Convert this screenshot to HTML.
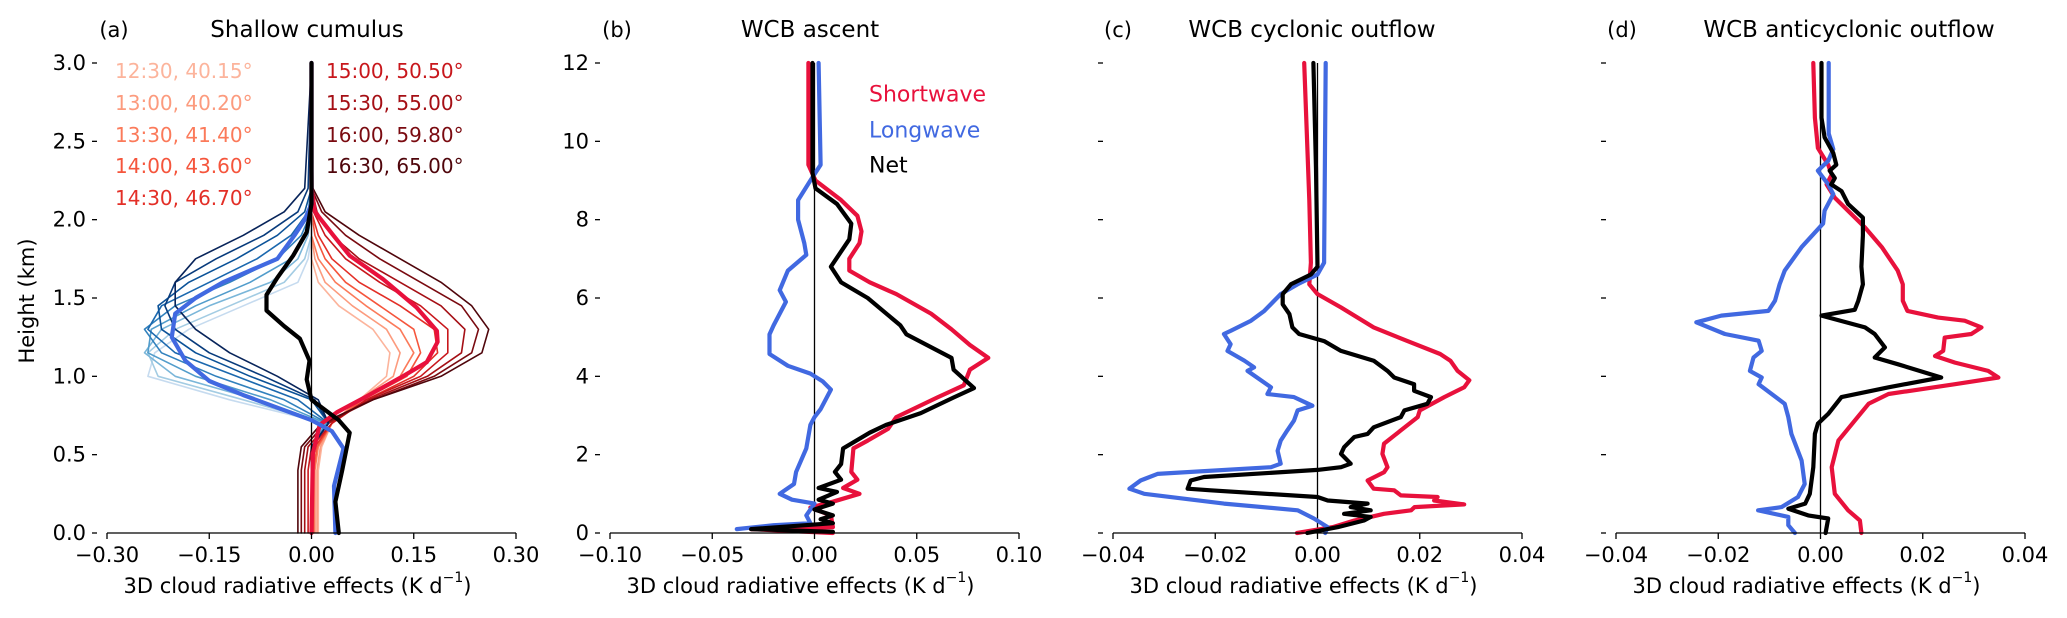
<!DOCTYPE html>
<html><head><meta charset="utf-8"><style>
html,body{margin:0;padding:0;background:#fff;}
svg{display:block;font-family:"DejaVu Sans","Liberation Sans",sans-serif;}
</style></head><body>
<svg id="fig" width="2067" height="618" viewBox="0 0 2067 618" xmlns="http://www.w3.org/2000/svg"></svg>
<script>
// ---------- Panel (a) data ----------
const aH = [0,0.4,0.55,0.7,0.85,1.0,1.15,1.3,1.45,1.6,1.75,1.9,2.05,2.2,3.0];
const aTimes = ["12:30, 40.15°","13:00, 40.20°","13:30, 41.40°","14:00, 43.60°","14:30, 46.70°","15:00, 50.50°","15:30, 55.00°","16:00, 59.80°","16:30, 65.00°"];
const aSw1=[0.01,0.01,0.015,0.03,0.07,0.11,0.115,0.09,0.04,0.01,0,0,0,0,0];
const aSw2=[0.008,0.008,0.013,0.03,0.07,0.12,0.13,0.11,0.06,0.02,0.005,0,0,0,0];
const aSw3=[0.005,0.005,0.01,0.03,0.07,0.13,0.15,0.13,0.08,0.035,0.01,0,0,0,0];
const aSw4=[0.003,0.003,0.008,0.03,0.075,0.14,0.16,0.15,0.1,0.05,0.02,0.005,0,0,0];
const aSw5=[0,0,0.005,0.03,0.08,0.15,0.185,0.18,0.13,0.07,0.03,0.01,0,0,0];
const aSw6=[-0.005,-0.005,0,0.03,0.08,0.16,0.2,0.2,0.16,0.1,0.05,0.02,0.003,0,0];
const aSw7=[-0.01,-0.01,-0.005,0.025,0.085,0.17,0.22,0.225,0.19,0.13,0.07,0.03,0.008,0,0];
const aSw8=[-0.015,-0.015,-0.01,0.02,0.09,0.18,0.235,0.245,0.22,0.16,0.1,0.05,0.015,0,0];
const aSw9=[-0.02,-0.02,-0.015,0.015,0.09,0.19,0.25,0.26,0.235,0.19,0.13,0.07,0.02,0.002,0];
const aLw1=[0,0,0,0.02,-0.12,-0.24,-0.23,-0.18,-0.1,-0.02,-0.005,0,0,0,0];
const aLw2=[0,0,0,0.02,-0.1,-0.225,-0.24,-0.2,-0.12,-0.04,-0.01,0,0,0,0];
const aLw3=[0,0,0,0.02,-0.08,-0.2,-0.245,-0.22,-0.15,-0.06,-0.02,-0.005,0,0,0];
const aLw4=[0,0,0,0.022,-0.06,-0.17,-0.24,-0.235,-0.17,-0.09,-0.03,-0.01,0,0,0];
const aLw5=[0,0,0,0.024,-0.04,-0.14,-0.22,-0.245,-0.2,-0.12,-0.05,-0.015,0,0,0];
const aLw6=[0,0,0,0.025,-0.02,-0.11,-0.2,-0.24,-0.22,-0.15,-0.08,-0.03,-0.005,0,0];
const aLw7=[0,0,0,0.025,0,-0.09,-0.17,-0.22,-0.225,-0.18,-0.11,-0.05,-0.01,0,0];
const aLw8=[0,0,0,0.025,0.005,-0.07,-0.15,-0.2,-0.215,-0.2,-0.14,-0.07,-0.02,-0.005,0];
const aLw9=[0,0,0,0.025,0.01,-0.05,-0.12,-0.17,-0.2,-0.2,-0.17,-0.1,-0.04,-0.01,0];
const aSwMeanH=[0,0.51,0.69,0.77,0.87,0.99,1.09,1.22,1.29,1.44,1.62,1.77,1.9,2.05,2.2,3.0];
const aSwMeanV=[0,0.002,0.012,0.037,0.08,0.13,0.169,0.185,0.184,0.154,0.105,0.056,0.032,0.005,0,0];
const aLwMeanH=[0,0.3,0.54,0.65,0.72,0.8,0.88,0.97,1.1,1.25,1.4,1.5,1.6,1.75,1.9,2.0,2.1,3.0];
const aLwMeanV=[0.035,0.033,0.047,0.03,0,-0.05,-0.1,-0.15,-0.185,-0.205,-0.2,-0.17,-0.13,-0.05,-0.025,-0.01,0,0];
const aNetH=[0,0.2,0.4,0.64,0.72,0.85,0.98,1.1,1.24,1.32,1.42,1.52,1.63,1.77,1.92,2.1,3.0];
const aNetV=[0.04,0.035,0.045,0.056,0.04,0.0,-0.007,-0.003,-0.017,-0.04,-0.066,-0.066,-0.05,-0.027,-0.007,0,0];
// ---------- Panel (b) data ----------
const bSwH=[12,9.4,9.0,8.5,8.1,7.7,7.4,7.0,6.7,6.4,6.1,5.6,5.2,4.8,4.47,4.17,3.77,3.46,2.96,2.66,2.36,2.16,1.56,1.36,1.15,1.0,0.8,0.65,0.45,0.15,0.1,0];
const bSwV=[-0.003,-0.003,0.0005,0.013,0.021,0.023,0.022,0.017,0.017,0.027,0.040,0.057,0.067,0.076,0.085,0.076,0.073,0.06,0.04,0.036,0.026,0.019,0.018,0.021,0.014,0.022,0.009,-0.002,0.008,0.009,-0.031,0.009];
const bLwH=[12,9.4,9.0,8.5,8.0,7.4,7.1,6.7,6.2,5.9,5.3,5.07,4.57,4.27,4.07,3.87,3.66,3.16,2.96,2.76,2.16,1.56,1.25,1.0,0.85,0.75,0.45,0.25,0.2,0.1];
const bLwV=[0.002,0.003,-0.002,-0.008,-0.008,-0.005,-0.004,-0.013,-0.017,-0.014,-0.02,-0.022,-0.022,-0.013,-0.002,0.004,0.008,0.003,0,-0.002,-0.004,-0.009,-0.010,-0.017,-0.011,0,-0.004,-0.002,-0.02,-0.038];
const bNetH=[12,9.2,8.8,8.4,7.9,7.5,6.8,6.4,6.0,5.3,5.07,4.47,4.17,3.7,3.46,3.06,2.76,2.56,2.16,1.76,1.56,1.36,1.15,1.05,0.85,0.75,0.6,0.45,0.35,0.25,0.1,0.03];
const bNetV=[-0.001,-0.001,0.0005,0.011,0.018,0.017,0.008,0.013,0.026,0.042,0.045,0.067,0.068,0.078,0.068,0.052,0.035,0.027,0.014,0.013,0.01,0.013,0.002,0.011,0.002,0.009,0,0.009,0.003,0.009,-0.031,0.009];
// ---------- Panel (c) data ----------
const cSwH=[12,8.5,6.9,6.35,6.1,5.76,5.25,4.9,4.57,4.4,4.14,3.9,3.72,3.47,3.13,2.96,2.62,2.28,2.02,1.68,1.55,1.34,1.13,1.09,0.96,0.92,0.83,0.73,0.66,0.58,0.49,0.41,0.32,0.15,0];
const cSwV=[-0.0026,-0.0016,-0.0013,-0.0016,0,0.0046,0.011,0.0176,0.024,0.026,0.0274,0.0297,0.0287,0.0248,0.020,0.0196,0.0163,0.013,0.0127,0.0137,0.013,0.0098,0.011,0.015,0.0163,0.0235,0.0228,0.0287,0.019,0.0183,0.013,0.0104,0.0072,0.003,-0.004];
const cLwH=[12,6.9,6.6,6.35,6.1,5.67,5.42,5.16,5.08,4.82,4.65,4.4,4.23,4.14,3.72,3.55,3.47,3.25,3.13,2.87,2.62,2.36,2.1,1.77,1.68,1.51,1.34,1.13,1.0,0.75,0.58,0.37,0.15,0];
const cLwV=[0.0016,0.0013,0,-0.0039,-0.0072,-0.0104,-0.013,-0.017,-0.0183,-0.017,-0.0176,-0.0143,-0.0124,-0.0137,-0.0091,-0.0098,-0.0046,-0.001,-0.0039,-0.0046,-0.0059,-0.0072,-0.0078,-0.0072,-0.0091,-0.0313,-0.0346,-0.0368,-0.0339,-0.0183,-0.0039,-0.0007,0.002,0.0015];
const cNetH=[12,9.3,6.8,6.6,6.35,6.1,5.84,5.59,5.25,5.08,4.9,4.65,4.4,4.14,3.97,3.8,3.63,3.47,3.3,3.13,2.96,2.7,2.53,2.45,2.19,2.02,1.77,1.68,1.61,1.43,1.34,1.13,1.09,0.92,0.83,0.75,0.66,0.58,0.49,0.41,0.32,0.15,0];
const cNetV=[-0.0008,-0.0003,0,-0.0013,-0.0052,-0.0068,-0.0068,-0.0055,-0.0049,-0.0036,0.0013,0.0046,0.011,0.0137,0.015,0.0189,0.0189,0.0222,0.0215,0.017,0.0163,0.011,0.0098,0.0072,0.0052,0.0046,0.0065,0.0046,0,-0.0222,-0.0248,-0.0254,-0.0209,0,0.002,0.0098,0.0065,0.0104,0.0052,0.0104,0.0091,0.004,-0.002];
// ---------- Panel (d) data ----------
const dSwH=[12,10.6,9.83,9.4,9.15,8.9,8.56,7.8,7.3,6.7,6.35,5.93,5.67,5.5,5.42,5.25,5.08,4.99,4.65,4.52,4.35,4.14,3.97,3.8,3.55,3.3,2.87,2.36,1.68,1.0,0.58,0.32,0];
const dSwV=[-0.0014,-0.0011,-0.0005,0.0015,0.0022,0.0012,0.0028,0.0087,0.012,0.0151,0.0161,0.0161,0.017,0.023,0.0282,0.0315,0.0295,0.0243,0.024,0.0224,0.0263,0.0328,0.0348,0.0263,0.0133,0.0094,0.0067,0.0035,0.0022,0.0028,0.0054,0.0077,0.008];
const dLwH=[12,10.2,9.8,9.5,9.25,8.9,8.65,8.23,7.9,7.3,6.7,6.35,5.93,5.67,5.55,5.38,5.08,4.91,4.65,4.48,4.14,3.97,3.8,3.3,2.96,2.53,1.85,1.25,0.92,0.66,0.58,0.41,0.2,0];
const dLwV=[0.0016,0.0016,0.0025,0.0015,-0.0005,0.0015,0.0025,0.0008,0.0005,-0.0037,-0.007,-0.008,-0.0089,-0.0102,-0.0194,-0.0243,-0.0187,-0.0121,-0.0115,-0.0131,-0.0138,-0.0115,-0.0121,-0.007,-0.0063,-0.0057,-0.0037,-0.0031,-0.0044,-0.0076,-0.0122,-0.0063,-0.0063,-0.005];
const dNetH=[12,10.6,10.1,9.7,9.4,9.25,9.06,8.9,8.73,8.4,8.05,7.6,6.8,6.35,5.93,5.7,5.55,5.25,5.08,4.74,4.48,4.31,3.97,3.72,3.47,3.04,2.79,2.53,1.68,1.0,0.75,0.62,0.45,0.37,0];
const dNetV=[0.0002,0.0002,0.0008,0.0025,0.0031,0.0018,0.0028,0.0021,0.0041,0.0054,0.0083,0.0083,0.008,0.0083,0.0074,0.0067,0.0002,0.0087,0.0106,0.0126,0.0106,0.0151,0.0236,0.0133,0.0041,0.0015,-0.0005,-0.0011,-0.0014,-0.0021,-0.003,-0.0063,-0.0024,0.0015,0.001];

// ---------- drawing ----------
const NS="http://www.w3.org/2000/svg";
const svg=document.getElementById('fig');
const Y0=533, Y1=63, PW=409;
const RED="#e8113c", BLUE="#4169e1";
function mk(tag,attrs,parent){const e=document.createElementNS(NS,tag);for(const k in attrs)e.setAttribute(k,attrs[k]);(parent||svg).appendChild(e);return e;}
function txt(s,x,y,size,anchor,fill,parent){const t=mk('text',{x:x,y:y,'font-size':size,'text-anchor':anchor||'middle','dominant-baseline':'central',fill:fill||'#000'},parent);t.textContent=s;return t;}
function panel(left,xmin,xmax,hmax){
  const sx=v=>left+(v-xmin)/(xmax-xmin)*PW;
  const sy=h=>Y0-h/hmax*(Y0-Y1);
  return {sx,sy};
}
function line(ax,hs,vs,color,w,g){
  const pts=hs.map((h,i)=>ax.sx(vs[i]).toFixed(1)+','+ax.sy(h).toFixed(1)).join(' ');
  return mk('polyline',{points:pts,fill:'none',stroke:color,'stroke-width':w,'stroke-linejoin':'round','stroke-linecap':'round'},g);
}
function axes(ax,g,left,xticks,xlabels,hmax,yticks,ylabels){
  mk('line',{x1:left,y1:Y0,x2:left+PW,y2:Y0,stroke:'#000','stroke-width':1.3},g);
  xticks.forEach((v,i)=>{
    const x=ax.sx(v);
    const t=mk('line',{x1:x,y1:Y0,x2:x,y2:Y0+6,stroke:'#000','stroke-width':1.3},g);
    
    
    const l=txt(xlabels[i],x,555,21,'middle','#000',g);
    
    
  });
  yticks.forEach((h,i)=>{
    const y=ax.sy(h);
    const t=mk('line',{x1:left-15,y1:y,x2:left-10,y2:y,stroke:'#000','stroke-width':1.3},g);
    
    
    if(ylabels){
      const l=txt(ylabels[i],left-21,y,21,'end','#000',g);
      
      
    }
  });
  const xl=txt('3D cloud radiative effects (K d',left+PW/2-14,586,21,'middle','#000',g);
  const sup=mk('tspan',{'font-size':14,dy:-8},xl);sup.textContent='\u22121';
  const cl=mk('tspan',{'font-size':21,dy:8},xl);cl.textContent=')';
  
  
}
function zeroLine(ax,hmax,g){
  const z=mk('line',{x1:ax.sx(0),y1:ax.sy(0),x2:ax.sx(0),y2:ax.sy(hmax),stroke:'#000','stroke-width':1.3},g);
  
  
}

// Panel a
(function(){
  const left=107, ax=panel(left,-0.30,0.30,3.0);
  const g=mk('g',{});
  
  
  const reds=["#fcb49c","#fc9b7e","#fb7a5a","#f5553c","#e32f27","#c8171c","#a50f15","#7a0a10","#4f050b"];
  const blues=["#c6dbef","#a3cce3","#7ab6d9","#519ccb","#3181bd","#1b68ae","#0b5298","#083b7c","#08245a"];
  const sws=[aSw1,aSw2,aSw3,aSw4,aSw5,aSw6,aSw7,aSw8,aSw9];
  const lws=[aLw1,aLw2,aLw3,aLw4,aLw5,aLw6,aLw7,aLw8,aLw9];
  sws.forEach((s,i)=>{const p=line(ax,aH,s,reds[i],1.6,g);
    
    });
  lws.forEach((s,i)=>{const p=line(ax,aH,s,blues[i],1.6,g);
    
    });
  zeroLine(ax,3.0,g);
  let p=line(ax,aSwMeanH,aSwMeanV,RED,4.2,g);
  
  
  p=line(ax,aLwMeanH,aLwMeanV,BLUE,4.2,g);
  
  
  p=line(ax,aNetH,aNetV,'#000',4.2,g);
  
  
  axes(ax,g,left,[-0.3,-0.15,0,0.15,0.3],["\u22120.30","\u22120.15","0.00","0.15","0.30"],3,[0,0.5,1,1.5,2,2.5,3],["0.0","0.5","1.0","1.5","2.0","2.5","3.0"]);
  const yl=txt('Height (km)',27,301,21,'middle','#000',g);
  yl.setAttribute('transform','rotate(-90 27 301)');
  
  
  const rowsY=[71,103,135,166,198];
  aTimes.forEach((s,i)=>{
    const x=i<5?115:326, y=rowsY[i<5?i:i-5];
    const t=txt(s,x,y,20,'start',reds[i],g);
    
    
  });
  const l=txt('(a)',114,30,21,'middle','#000',g);
  
  
  const tt=txt('Shallow cumulus',307,30,23,'middle','#000',g);
  
  
})();

function wcb(left,xmin,xmax,xt,xl,yl,sw,lw,net,lab,title,labX,titleX,name){
  const ax=panel(left,xmin,xmax,12);
  const g=mk('g',{});
  
  
  zeroLine(ax,12,g);
  let p=line(ax,sw[0],sw[1],RED,4.2,g);
  
  
  p=line(ax,lw[0],lw[1],BLUE,4.2,g);
  
  
  p=line(ax,net[0],net[1],'#000',4.2,g);
  
  
  axes(ax,g,left,xt,xl,12,[0,2,4,6,8,10,12],yl);
  const l=txt(lab,labX,30,21,'middle','#000',g);
  
  
  const tt=txt(title,titleX,30,23,'middle','#000',g);
  
  
  return g;
}
const gb=wcb(610,-0.10,0.10,[-0.1,-0.05,0,0.05,0.1],["\u22120.10","\u22120.05","0.00","0.05","0.10"],["0","2","4","6","8","10","12"],
  [bSwH,bSwV],[bLwH,bLwV],[bNetH,bNetV],'(b)','WCB ascent',617,810,'panel-b-wcb-ascent');
[['Shortwave',RED,95],['Longwave',BLUE,131],['Net','#000',166]].forEach(e=>{
  const t=txt(e[0],869,e[2],22,'start',e[1],gb);
  
  
});
wcb(1113,-0.04,0.04,[-0.04,-0.02,0,0.02,0.04],["\u22120.04","\u22120.02","0.00","0.02","0.04"],null,
  [cSwH,cSwV],[cLwH,cLwV],[cNetH,cNetV],'(c)','WCB cyclonic outflow',1118,1312,'panel-c-wcb-cyclonic-outflow');
wcb(1616,-0.04,0.04,[-0.04,-0.02,0,0.02,0.04],["\u22120.04","\u22120.02","0.00","0.02","0.04"],null,
  [dSwH,dSwV],[dLwH,dLwV],[dNetH,dNetV],'(d)','WCB anticyclonic outflow',1622,1849,'panel-d-wcb-anticyclonic-outflow');
</script>
</body></html>
